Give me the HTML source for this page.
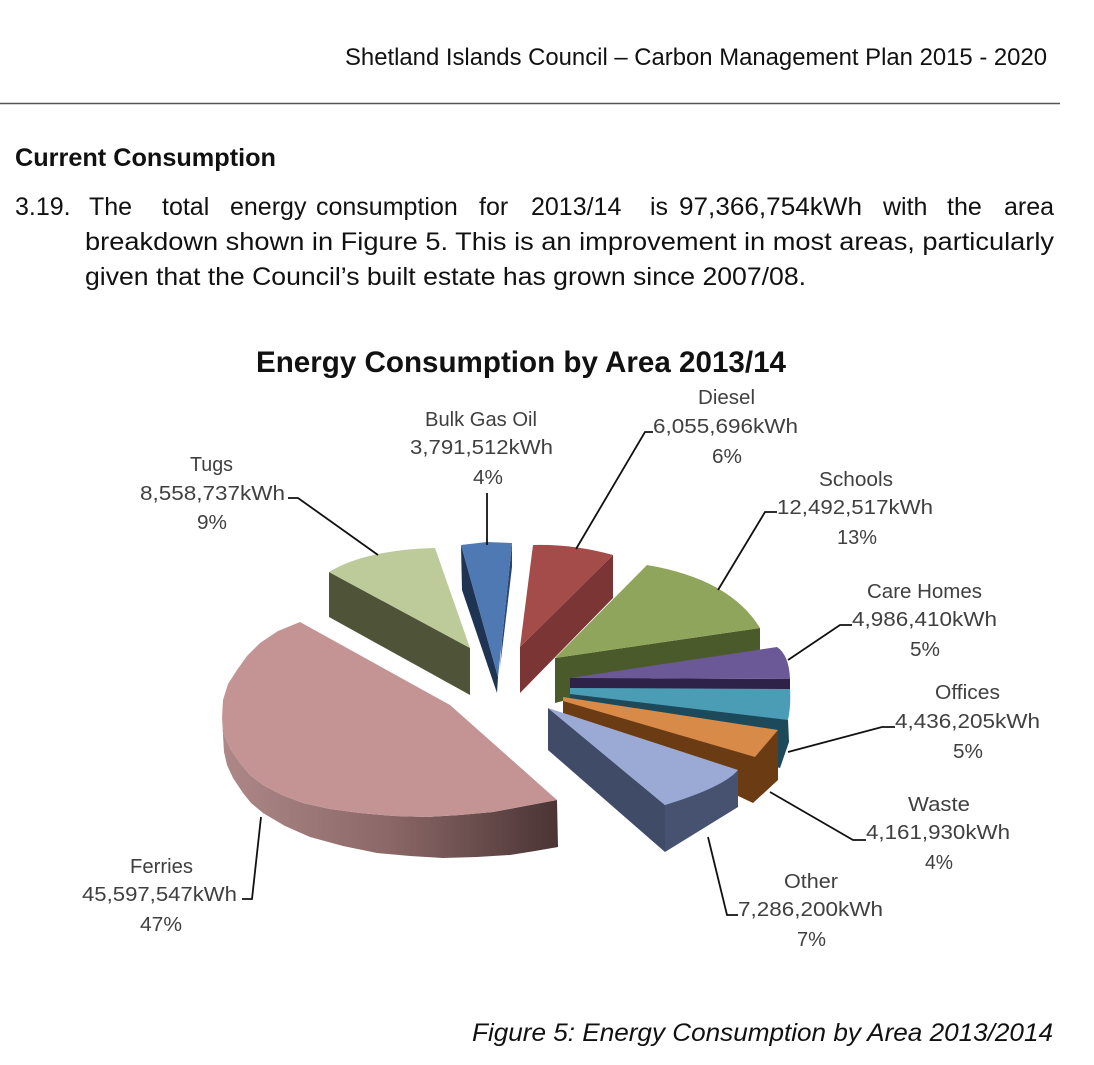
<!DOCTYPE html>
<html>
<head>
<meta charset="utf-8">
<style>
  html, body { margin: 0; padding: 0; background: #ffffff; }
  svg { display: block; }
  .body { font-family: "Liberation Sans", sans-serif; fill: #111; }
  .lbl { font-family: "Liberation Sans", sans-serif; font-size: 20px; fill: #404040; }
</style>
</head>
<body>
<svg width="1094" height="1065" viewBox="0 0 1094 1065" xmlns="http://www.w3.org/2000/svg">
  <defs>
    <linearGradient id="ferWall" gradientUnits="userSpaceOnUse" x1="223" y1="0" x2="558" y2="0">
      <stop offset="0" stop-color="#AE8888"/>
      <stop offset="0.5" stop-color="#8B6767"/>
      <stop offset="1" stop-color="#4A3434"/>
    </linearGradient>
  </defs>
  <rect x="0" y="0" width="1094" height="1065" fill="#ffffff"/>

  <!-- Header -->
  <text class="body" x="345" y="65" font-size="24" textLength="702" lengthAdjust="spacingAndGlyphs">Shetland Islands Council – Carbon Management Plan 2015 - 2020</text>
  <line x1="0" y1="103.5" x2="1060" y2="103.5" stroke="#555" stroke-width="1.5"/>

  <!-- Heading -->
  <text class="body" x="15" y="166" font-size="25" font-weight="bold" textLength="261" lengthAdjust="spacingAndGlyphs">Current Consumption</text>

  <!-- Paragraph -->
  <g class="body" font-size="25">
    <text x="15" y="215">3.19.</text>
    <text x="89" y="215">The</text>
    <text x="162" y="215">total</text>
    <text x="230" y="215">energy</text>
    <text x="316" y="215">consumption</text>
    <text x="479" y="215">for</text>
    <text x="531" y="215">2013/14</text>
    <text x="650" y="215">is</text>
    <text x="679" y="215" textLength="183" lengthAdjust="spacingAndGlyphs">97,366,754kWh</text>
    <text x="883" y="215">with</text>
    <text x="947" y="215">the</text>
    <text x="1004" y="215">area</text>
    <text x="85" y="250" textLength="969" lengthAdjust="spacingAndGlyphs">breakdown shown in Figure 5. This is an improvement in most areas, particularly</text>
    <text x="85" y="285" textLength="721" lengthAdjust="spacingAndGlyphs">given that the Council’s built estate has grown since 2007/08.</text>
  </g>

  <!-- Chart title -->
  <text class="body" x="256" y="372" font-size="30" font-weight="bold" textLength="530" lengthAdjust="spacingAndGlyphs">Energy Consumption by Area 2013/14</text>

  <!-- ===== PIE ===== -->
  <!-- Tugs -->
  <polygon points="329,572 470,648 470,695 329,617" fill="#4F5439"/>
  <path d="M329,572 Q365,550 435,548 L470,648 Z" fill="#BCCB99"/>

  <!-- Bulk Gas Oil -->
  <polygon points="461,545 462,590 497,693 498,677" fill="#1F3352"/>
  <polygon points="512,543 512,567 500,668 502,640" fill="#2B4670"/>
  <polygon points="461,545 487,542 512,543 502,640 498,677" fill="#4E79B3"/>

  <!-- Diesel -->
  <polygon points="613,555 613,598 520,693 520,647" fill="#7C3535"/>
  <path d="M533,545 Q573,544 613,555 L520,647 Z" fill="#A34C49"/>

  <!-- Schools -->
  <polygon points="555,658 760,628 760,650 555,703" fill="#4A5A2B"/>
  <path d="M647,565 Q730,579 760,628 L555,658 Z" fill="#8FA55B"/>

  <!-- Care Homes -->
  <polygon points="570,678 790,679 790,689 570,689" fill="#2E2248"/>
  <path d="M570,678 L777,647 Q789,655 790,679 Z" fill="#6B5896"/>

  <!-- Offices -->
  <polygon points="570,692 788,719 789,742 780,768 570,706" fill="#1D4A5B"/>
  <path d="M570,688 L790,689 Q791,706 788,720 L570,694 Z" fill="#4A9DB4"/>

  <!-- Waste -->
  <polygon points="563,699 755,757 778,730 778,780 753,803 563,713" fill="#6B3B14"/>
  <polygon points="563,697 778,730 755,757 563,701" fill="#D88A48"/>

  <!-- Other -->
  <polygon points="548,708 665,805 665,852 548,750" fill="#3F4B67"/>
  <polygon points="738,770 665,805 665,852 738,807" fill="#46526F"/>
  <path d="M548,708 L738,770 Q724,787 665,805 Z" fill="#9AAAD5"/>

  <!-- Ferries -->
  <path d="M222,718 L224,735 L231,750 L240,763 L250,775 L263,785 L282,795 L303,803 L330,809 L360,813 L394,816 L427,817 L460,815 L493,812 L525,806 L557,800 L558,847 L535,851 L510,855 L477,857 L443,858 L410,856 L377,853 L343,846 L310,837 L285,826 L263,813 L251,803 L243,793 L233,778 L227,765 L224,752 Z" fill="url(#ferWall)"/>
  <path d="M300,622 L450,705 L557,800 L525,806 L493,812 L460,815 L427,817 L394,816 L360,813 L330,809 L303,803 L282,795 L263,785 L250,775 L240,763 L231,750 L224,735 L222,718 L223,700 L228,684 L237,670 L247,656 L260,643 L278,631 Z" fill="#C39493"/>

  <!-- Leader lines -->
  <g stroke="#111" stroke-width="1.8" fill="none">
    <polyline points="288,498 298,498 378,555"/>
    <polyline points="487,493 487,545"/>
    <polyline points="653,432 645,432 576,549"/>
    <polyline points="777,512 765,512 718,590"/>
    <polyline points="852,625 840,625 788,660"/>
    <polyline points="895,727 882,727 788,752"/>
    <polyline points="866,840 853,840 770,792"/>
    <polyline points="738,915 727,915 708,837"/>
    <polyline points="242,899 252,899 261,817"/>
  </g>

  <!-- Labels -->
  <g class="lbl">
    <text x="190" y="471" textLength="43" lengthAdjust="spacingAndGlyphs">Tugs</text>
    <text x="140" y="500" textLength="145" lengthAdjust="spacingAndGlyphs">8,558,737kWh</text>
    <text x="197" y="529" textLength="30" lengthAdjust="spacingAndGlyphs">9%</text>

    <text x="425" y="426" textLength="112" lengthAdjust="spacingAndGlyphs">Bulk Gas Oil</text>
    <text x="410" y="454" textLength="143" lengthAdjust="spacingAndGlyphs">3,791,512kWh</text>
    <text x="473" y="484" textLength="30" lengthAdjust="spacingAndGlyphs">4%</text>

    <text x="698" y="404" textLength="57" lengthAdjust="spacingAndGlyphs">Diesel</text>
    <text x="653" y="433" textLength="145" lengthAdjust="spacingAndGlyphs">6,055,696kWh</text>
    <text x="712" y="463" textLength="30" lengthAdjust="spacingAndGlyphs">6%</text>

    <text x="819" y="486" textLength="74" lengthAdjust="spacingAndGlyphs">Schools</text>
    <text x="777" y="514" textLength="156" lengthAdjust="spacingAndGlyphs">12,492,517kWh</text>
    <text x="837" y="544" textLength="40" lengthAdjust="spacingAndGlyphs">13%</text>

    <text x="867" y="598" textLength="115" lengthAdjust="spacingAndGlyphs">Care Homes</text>
    <text x="852" y="626" textLength="145" lengthAdjust="spacingAndGlyphs">4,986,410kWh</text>
    <text x="910" y="656" textLength="30" lengthAdjust="spacingAndGlyphs">5%</text>

    <text x="935" y="699" textLength="65" lengthAdjust="spacingAndGlyphs">Offices</text>
    <text x="895" y="728" textLength="145" lengthAdjust="spacingAndGlyphs">4,436,205kWh</text>
    <text x="953" y="758" textLength="30" lengthAdjust="spacingAndGlyphs">5%</text>

    <text x="908" y="811" textLength="62" lengthAdjust="spacingAndGlyphs">Waste</text>
    <text x="866" y="839" textLength="144" lengthAdjust="spacingAndGlyphs">4,161,930kWh</text>
    <text x="925" y="869" textLength="28" lengthAdjust="spacingAndGlyphs">4%</text>

    <text x="784" y="888" textLength="54" lengthAdjust="spacingAndGlyphs">Other</text>
    <text x="738" y="916" textLength="145" lengthAdjust="spacingAndGlyphs">7,286,200kWh</text>
    <text x="797" y="946" textLength="29" lengthAdjust="spacingAndGlyphs">7%</text>

    <text x="130" y="873" textLength="63" lengthAdjust="spacingAndGlyphs">Ferries</text>
    <text x="82" y="901" textLength="155" lengthAdjust="spacingAndGlyphs">45,597,547kWh</text>
    <text x="140" y="931" textLength="42" lengthAdjust="spacingAndGlyphs">47%</text>
  </g>

  <!-- Caption -->
  <text class="body" x="472" y="1041" font-size="25" font-style="italic" textLength="581" lengthAdjust="spacingAndGlyphs">Figure 5: Energy Consumption by Area 2013/2014</text>
</svg>
</body>
</html>
